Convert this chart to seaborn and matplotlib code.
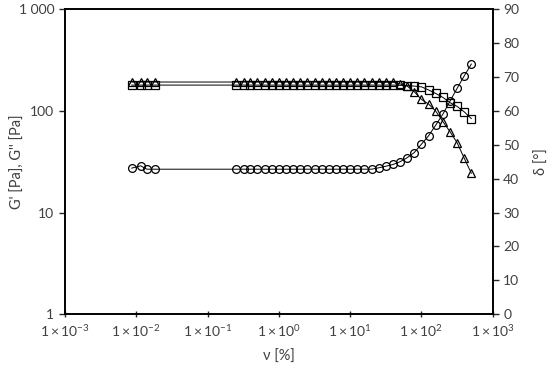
import matplotlib
matplotlib.use('Agg')
import matplotlib.pyplot as plt
import seaborn as sns
import pandas as pd
from matplotlib.ticker import FixedLocator, FixedFormatter, NullLocator

# strain amplitude [%]
strain = [0.0086, 0.0115, 0.0141, 0.0182,
          0.25, 0.32, 0.40, 0.50, 0.63, 0.79, 1.0, 1.26, 1.58, 2.0,
          2.5, 3.2, 4.0, 5.0, 6.3, 7.9, 10, 12.6, 15.8, 20,
          25, 32, 40, 50, 63, 79, 100, 126, 158, 200,
          251, 316, 398, 501]

# storage modulus (squares) [Pa]
g_sq = [180, 180, 180, 180,
        180, 180, 180, 180, 180, 180, 180, 180, 180, 180,
        180, 180, 180, 180, 180, 180, 180, 180, 180, 180,
        180, 180, 180, 179, 178, 176, 173, 161, 149, 136,
        121, 111, 98, 84]

# loss modulus (triangles) [Pa]
g_tri = [193, 193, 193, 193,
         193, 193, 193, 193, 193, 193, 193, 193, 193, 193,
         193, 193, 193, 193, 193, 193, 193, 193, 193, 192,
         192, 192, 192, 185, 176, 155, 130, 117, 100, 78.5,
         62.6, 48.7, 34.2, 24.3]

# phase angle (circles) [deg]
delta = [43.1, 43.8, 42.8, 42.8,
         42.8, 42.8, 42.8, 42.8, 42.8, 42.8, 42.8, 42.8, 42.8, 42.8,
         42.8, 42.8, 42.8, 42.8, 42.8, 42.8, 42.8, 42.8, 42.8, 42.8,
         43.2, 43.7, 44.2, 45.0, 46.2, 47.7, 50.2, 52.7, 55.8, 59.1,
         62.9, 66.7, 70.4, 73.9]

xtick_vals = [1e-3, 1e-2, 1e-1, 1e0, 1e1, 1e2, 1e3]
xtick_labels = [r'$1 \times 10^{-3}$', r'$1 \times 10^{-2}$', r'$1 \times 10^{-1}$',
                r'$1 \times 10^{0}$', r'$1 \times 10^{1}$', r'$1 \times 10^{2}$',
                r'$1 \times 10^{3}$']
ytick_vals = [1, 10, 100, 1000]
ytick_labels = ['1', '10', '100', '1 000']
y2tick_vals = [0, 10, 20, 30, 40, 50, 60, 70, 80, 90]

df = pd.DataFrame({'strain': strain, 'g_sq': g_sq, 'g_tri': g_tri, 'delta': delta})

sns.set_style('ticks')
plt.rcParams['font.family'] = ['Lato', 'DejaVu Sans']
plt.rcParams['mathtext.fontset'] = 'custom'
plt.rcParams['mathtext.rm'] = 'Lato'
plt.rcParams['mathtext.it'] = 'Lato'
plt.rcParams['mathtext.sf'] = 'Lato'
txt = '#404040'

fig = plt.figure(figsize=(5.5, 3.71), dpi=100)
ax = fig.add_axes([0.118, 0.1536, 0.778, 0.8208])
ax2 = ax.twinx()

style = dict(color='black', linewidth=0.7, markerfacecolor='none',
             markeredgecolor='black', markeredgewidth=0.9)
sns.lineplot(data=df, x='strain', y='g_sq', ax=ax, marker='s', markersize=5.2, **style)
sns.lineplot(data=df, x='strain', y='g_tri', ax=ax, marker='^', markersize=5.8, **style)
sns.lineplot(data=df, x='strain', y='delta', ax=ax2, marker='o', markersize=5.6, **style)

ax.set_xscale('log')
ax.set_yscale('log')
ax.set_xlim(1e-3, 1e3)
ax.set_ylim(1, 1000)
ax2.set_ylim(0, 90)

ax.xaxis.set_major_locator(FixedLocator(xtick_vals))
ax.xaxis.set_major_formatter(FixedFormatter(xtick_labels))
ax.xaxis.set_minor_locator(NullLocator())
ax.yaxis.set_major_locator(FixedLocator(ytick_vals))
ax.yaxis.set_major_formatter(FixedFormatter(ytick_labels))
ax.yaxis.set_minor_locator(NullLocator())
ax2.set_yticks(y2tick_vals)

ax.tick_params(axis='x', direction='inout', length=5, width=1, labelsize=10, labelcolor=txt, pad=4)
ax.tick_params(axis='y', direction='out', length=4, width=1, labelsize=10, labelcolor=txt)
ax2.tick_params(axis='y', direction='out', length=4, width=1, labelsize=10, labelcolor=txt)

for a in (ax, ax2):
    for s in a.spines.values():
        s.set_linewidth(1.2)
        s.set_color('black')

ax.set_xlabel('ν [%]', fontsize=10.5, color=txt, va='center')
ax.xaxis.set_label_coords(0.5, -0.141)
ax.set_ylabel("G' [Pa], G'' [Pa]", fontsize=10.5, color=txt, va='center')
ax.yaxis.set_label_coords(-0.11, 0.5)
ax2.set_ylabel('δ [°]', fontsize=10.5, color=txt, rotation=90, va='center')
ax2.yaxis.set_label_coords(1.114, 0.5)

fig.savefig('out.png', dpi=100)
